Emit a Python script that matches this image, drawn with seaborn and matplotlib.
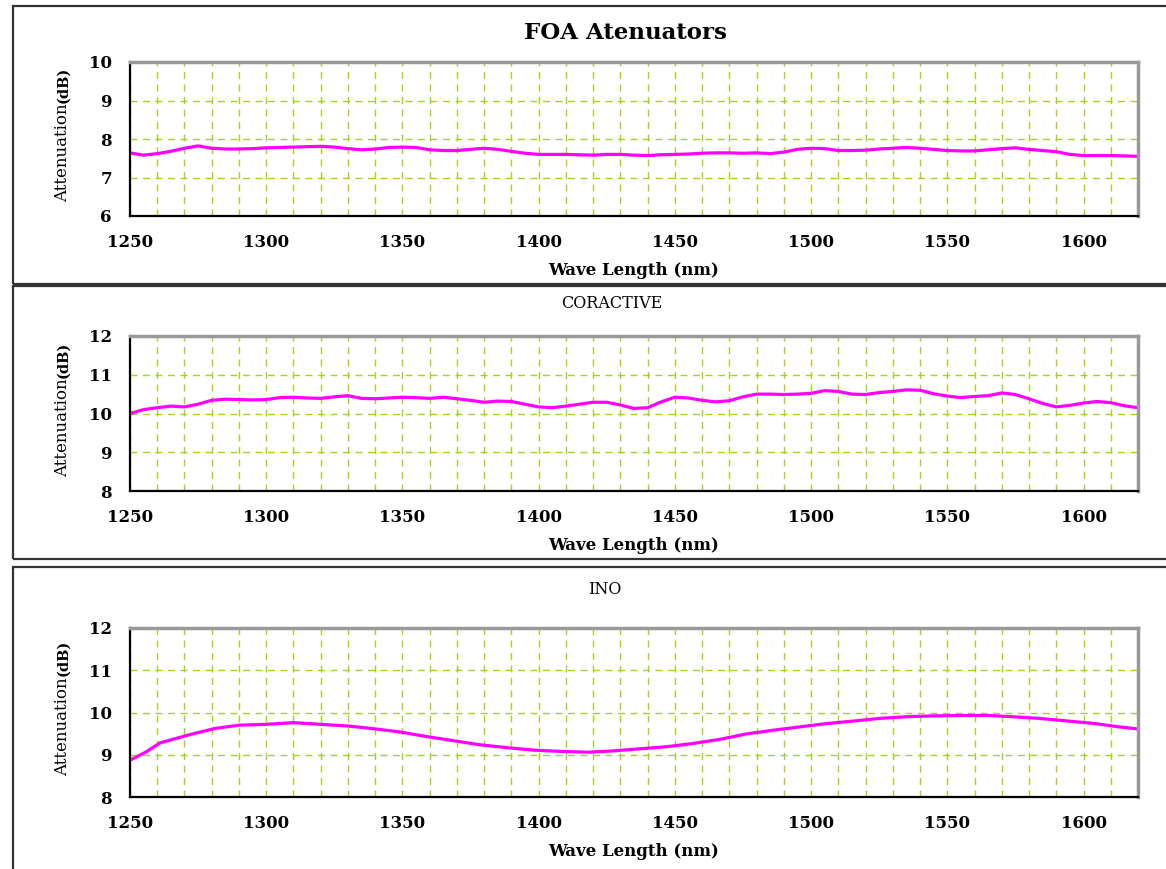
import matplotlib
matplotlib.use("Agg")
import matplotlib.pyplot as plt
from matplotlib.patches import Rectangle
from matplotlib.ticker import MultipleLocator
import seaborn as sns

# values
foa_nm = list(range(1250, 1625, 5))
foa_db = [7.64, 7.58, 7.62, 7.68, 7.76, 7.82, 7.76, 7.74, 7.74, 7.75,
          7.77, 7.78, 7.79, 7.80, 7.81, 7.79, 7.75, 7.72, 7.74, 7.78,
          7.79, 7.78, 7.72, 7.70, 7.70, 7.73, 7.76, 7.73, 7.68, 7.63,
          7.60, 7.60, 7.60, 7.59, 7.58, 7.60, 7.60, 7.58, 7.57, 7.59,
          7.60, 7.61, 7.63, 7.64, 7.64, 7.63, 7.64, 7.62, 7.66, 7.73,
          7.76, 7.75, 7.70, 7.70, 7.71, 7.74, 7.76, 7.78, 7.76, 7.73,
          7.70, 7.69, 7.69, 7.72, 7.75, 7.77, 7.73, 7.70, 7.67, 7.60,
          7.57, 7.57, 7.57, 7.56, 7.55]

cor_nm = list(range(1250, 1625, 5))
cor_db = [10.00, 10.10, 10.15, 10.19, 10.17, 10.24, 10.34, 10.37, 10.36, 10.35,
          10.36, 10.41, 10.42, 10.40, 10.39, 10.43, 10.46, 10.39, 10.38, 10.40,
          10.42, 10.41, 10.39, 10.42, 10.38, 10.34, 10.29, 10.32, 10.31, 10.24,
          10.17, 10.15, 10.19, 10.24, 10.29, 10.29, 10.22, 10.13, 10.15, 10.30,
          10.42, 10.40, 10.34, 10.30, 10.33, 10.43, 10.50, 10.50, 10.49, 10.50,
          10.52, 10.59, 10.57, 10.50, 10.49, 10.54, 10.57, 10.61, 10.60, 10.51,
          10.45, 10.41, 10.44, 10.46, 10.53, 10.49, 10.38, 10.26, 10.17, 10.21,
          10.27, 10.31, 10.28, 10.20, 10.15]

ino_nm = [1250, 1256, 1261, 1271, 1281, 1290, 1300, 1310, 1320, 1330,
          1339, 1349, 1359, 1369, 1378, 1388, 1398, 1408, 1418, 1427,
          1437, 1447, 1457, 1467, 1476, 1486, 1496, 1506, 1516, 1525,
          1535, 1545, 1555, 1565, 1574, 1584, 1594, 1604, 1613, 1620]
ino_db = [8.87, 9.07, 9.28, 9.46, 9.62, 9.70, 9.72, 9.76, 9.72, 9.68,
          9.62, 9.54, 9.43, 9.33, 9.24, 9.17, 9.11, 9.08, 9.06, 9.09,
          9.14, 9.19, 9.27, 9.37, 9.49, 9.58, 9.66, 9.74, 9.80, 9.86,
          9.90, 9.92, 9.93, 9.93, 9.90, 9.86, 9.80, 9.74, 9.66, 9.61]

x_ticks = [1250, 1300, 1350, 1400, 1450, 1500, 1550, 1600]

sns.set_style("white")
plt.rcParams['font.family'] = ['DejaVu Serif']
plt.rcParams['text.color'] = 'black'
plt.rcParams['axes.labelcolor'] = 'black'
plt.rcParams['xtick.color'] = 'black'
plt.rcParams['ytick.color'] = 'black'

W, H = 1166, 869
fig = plt.figure(figsize=(W / 100, H / 100), dpi=100)


def fx(px):
    return px / W


def fy(py):
    return 1 - py / H


# panel frames (pixel boxes: top, bottom)
for top, bot in [(6, 284), (286, 559), (567, 875)]:
    fig.patches.append(Rectangle((fx(13), fy(bot)), fx(1170) - fx(13), fy(top) - fy(bot),
                                 transform=fig.transFigure, fill=False,
                                 edgecolor='#333333', linewidth=1.6))

panels = [
    (foa_nm, foa_db, (62, 216), (6, 10), "FOA Atenuators", 625, 33, True),
    (cor_nm, cor_db, (336, 491), (8, 12), "CORACTIVE", 612, 303, False),
    (ino_nm, ino_db, (628, 797), (8, 12), "INO", 605, 590, False),
]

for nm, db, (top, bot), ylim, title, tx, ty, bold in panels:
    ax = fig.add_axes([fx(130), fy(bot), fx(1138) - fx(130), fy(top) - fy(bot)])
    sns.lineplot(x=nm, y=db, ax=ax, color='#ff00ff', linewidth=2.3)
    ax.set_xlim(1250, 1620)
    ax.set_ylim(*ylim)
    ax.set_xticks(x_ticks)
    ax.xaxis.set_minor_locator(MultipleLocator(10))
    ax.yaxis.set_major_locator(MultipleLocator(1))
    ax.grid(axis='x', which='both', color='#a6d21e', linestyle=(0, (5, 4)), linewidth=1)
    ax.grid(axis='y', which='major', color='#a6d21e', linestyle=(0, (5, 4)), linewidth=1)
    ax.tick_params(axis='both', which='major', direction='in', length=5, width=1.2,
                   color='black', labelsize=12, pad=13)
    ax.tick_params(axis='x', which='minor', length=0)
    ax.tick_params(axis='y', pad=13)
    for lab in ax.get_xticklabels() + ax.get_yticklabels():
        lab.set_fontweight('bold')
    for side in ['left', 'bottom']:
        ax.spines[side].set_color('black')
        ax.spines[side].set_linewidth(1.6)
    for side in ['top', 'right']:
        ax.spines[side].set_color('#999999')
        ax.spines[side].set_linewidth(2.5)
    ax.set_xlabel('Wave Length (nm)', fontsize=12, fontweight='bold', labelpad=8)
    ax.set_ylabel('')

    fig.text(fx(tx), fy(ty), title, ha='center', va='center',
             fontsize=16.5 if bold else 11.5, fontweight='bold' if bold else 'normal')

    mid = (top + bot) / 2
    fig.text(fx(63), fy(mid + 63), 'Attenuation', rotation=90, ha='center', va='bottom',
             fontsize=12)
    fig.text(fx(63), fy(mid - 36), '(dB)', rotation=90, ha='center', va='bottom',
             fontsize=10.5, fontweight='bold')

fig.savefig('out.png', dpi=100)
